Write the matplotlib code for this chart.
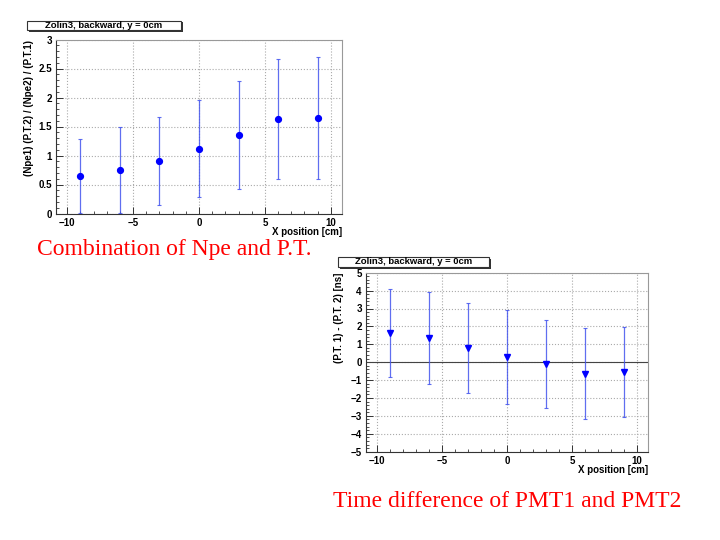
import matplotlib
matplotlib.use("Agg")
import matplotlib.pyplot as plt
from matplotlib.patches import Rectangle
from matplotlib.ticker import MultipleLocator, FuncFormatter
import numpy as np

# positions along the bar (cm)
xpos = [-9, -6, -3, 0, 3, 6, 9]

# combination of Npe and P.T.
ratio = [0.65, 0.75, 0.905, 1.12, 1.36, 1.63, 1.645]
ratio_err = [0.64, 0.74, 0.765, 0.83, 0.93, 1.04, 1.045]

# time difference PMT1 - PMT2 [ns]
tdiff = [1.61, 1.33, 0.79, 0.275, -0.10, -0.64, -0.545]
tdiff_err = [2.46, 2.57, 2.53, 2.635, 2.44, 2.55, 2.50]

title_txt = "Zolin3, backward, y = 0cm"
font = "Liberation Sans"

fig = plt.figure(figsize=(7.2, 5.4), dpi=100)

# ROOT style labels: no trailing zeros, long minus
fmt = FuncFormatter(lambda v, p: ("%g" % v).replace("-", "\u2212"))


def root_axes(rect, ylim, ymaj, ymin, ylabel):
    ax = fig.add_axes(rect)
    ax.set_xlim(-10.85, 10.85)
    ax.set_ylim(*ylim)
    ax.xaxis.set_major_locator(MultipleLocator(5))
    ax.xaxis.set_minor_locator(MultipleLocator(1))
    ax.yaxis.set_major_locator(MultipleLocator(ymaj))
    ax.yaxis.set_minor_locator(MultipleLocator(ymin))
    ax.xaxis.set_major_formatter(fmt)
    ax.yaxis.set_major_formatter(fmt)
    ax.tick_params(which="both", direction="in", top=False, right=False,
                   labelsize=7, pad=3, color="#333333")
    ax.tick_params(which="major", length=5, width=0.7)
    ax.tick_params(which="minor", length=2.5, width=0.6)
    for lab in ax.get_xticklabels() + ax.get_yticklabels():
        lab.set_fontweight("bold")
        lab.set_family(font)
    ax.grid(True, which="major", color="#aaaaaa", linestyle=":", linewidth=0.8)
    ax.set_axisbelow(True)
    for s in ["left", "bottom"]:
        ax.spines[s].set_color("#333333")
        ax.spines[s].set_linewidth(0.8)
    for s in ["top", "right"]:
        ax.spines[s].set_color("#999999")
        ax.spines[s].set_linewidth(0.8)
    ax.text(1.0, -0.075, "X position [cm]", transform=ax.transAxes,
            ha="right", va="top", fontsize=7, fontweight="bold", family=font)
    ax.text(-0.095, 1.0, ylabel, transform=ax.transAxes, rotation=90,
            ha="center", va="top", fontsize=7, fontweight="bold", family=font)
    return ax


def title_box(x0, y0, w, h):
    # ROOT-style pave with shadow, in pixel coords
    fw, fh = 720.0, 540.0
    sh = Rectangle(((x0 + 1.5) / fw, 1 - (y0 + h + 1.5) / fh), w / fw, h / fh,
                   transform=fig.transFigure, facecolor="#333333", edgecolor="none")
    box = Rectangle((x0 / fw, 1 - (y0 + h) / fh), w / fw, h / fh,
                    transform=fig.transFigure, facecolor="white",
                    edgecolor="#333333", linewidth=0.8)
    fig.patches.extend([sh, box])
    fig.text((x0 + w / 2) / fw, 1 - (y0 + h / 2) / fh, title_txt,
             ha="center", va="center", fontsize=6.8, fontweight="bold", family=font)


# top-left chart
ax1 = root_axes([56 / 720, 1 - 213.5 / 540, 286 / 720, 174 / 540],
                (0, 3), 0.5, 0.1, "(Npe1) (P.T.2) / (Npe2) / (P.T.1)")
ax1.errorbar(xpos, ratio, yerr=ratio_err, fmt="none", ecolor="#4455ee",
             elinewidth=0.9, capsize=1.5, capthick=0.8, alpha=0.85)
ax1.plot(xpos, ratio, "o", color="#0000ff", markersize=4.2)
title_box(27, 21, 154, 9)

# bottom-right chart
ax2 = root_axes([366 / 720, 1 - 451.7 / 540, 282 / 720, 179 / 540],
                (-5, 5), 1, 0.2, "(P.T. 1) - (P.T. 2) [ns]")
ax2.axhline(0, color="#444444", linewidth=0.8)
ax2.errorbar(xpos, tdiff, yerr=tdiff_err, fmt="none", ecolor="#4455ee",
             elinewidth=0.9, capsize=1.5, capthick=0.8, alpha=0.85)
ax2.plot(xpos, tdiff, "v", color="#0000ff", markersize=4.2)
title_box(338, 257, 151, 10)

# captions
fig.text(37 / 720, 1 - 255 / 540, "Combination of Npe and P.T.", color="red",
         fontsize=17, family="Liberation Serif", ha="left", va="baseline")
fig.text(333 / 720, 1 - 507 / 540, "Time difference of PMT1 and PMT2", color="red",
         fontsize=17, family="Liberation Serif", ha="left", va="baseline")

fig.savefig("out.png", dpi=100)
